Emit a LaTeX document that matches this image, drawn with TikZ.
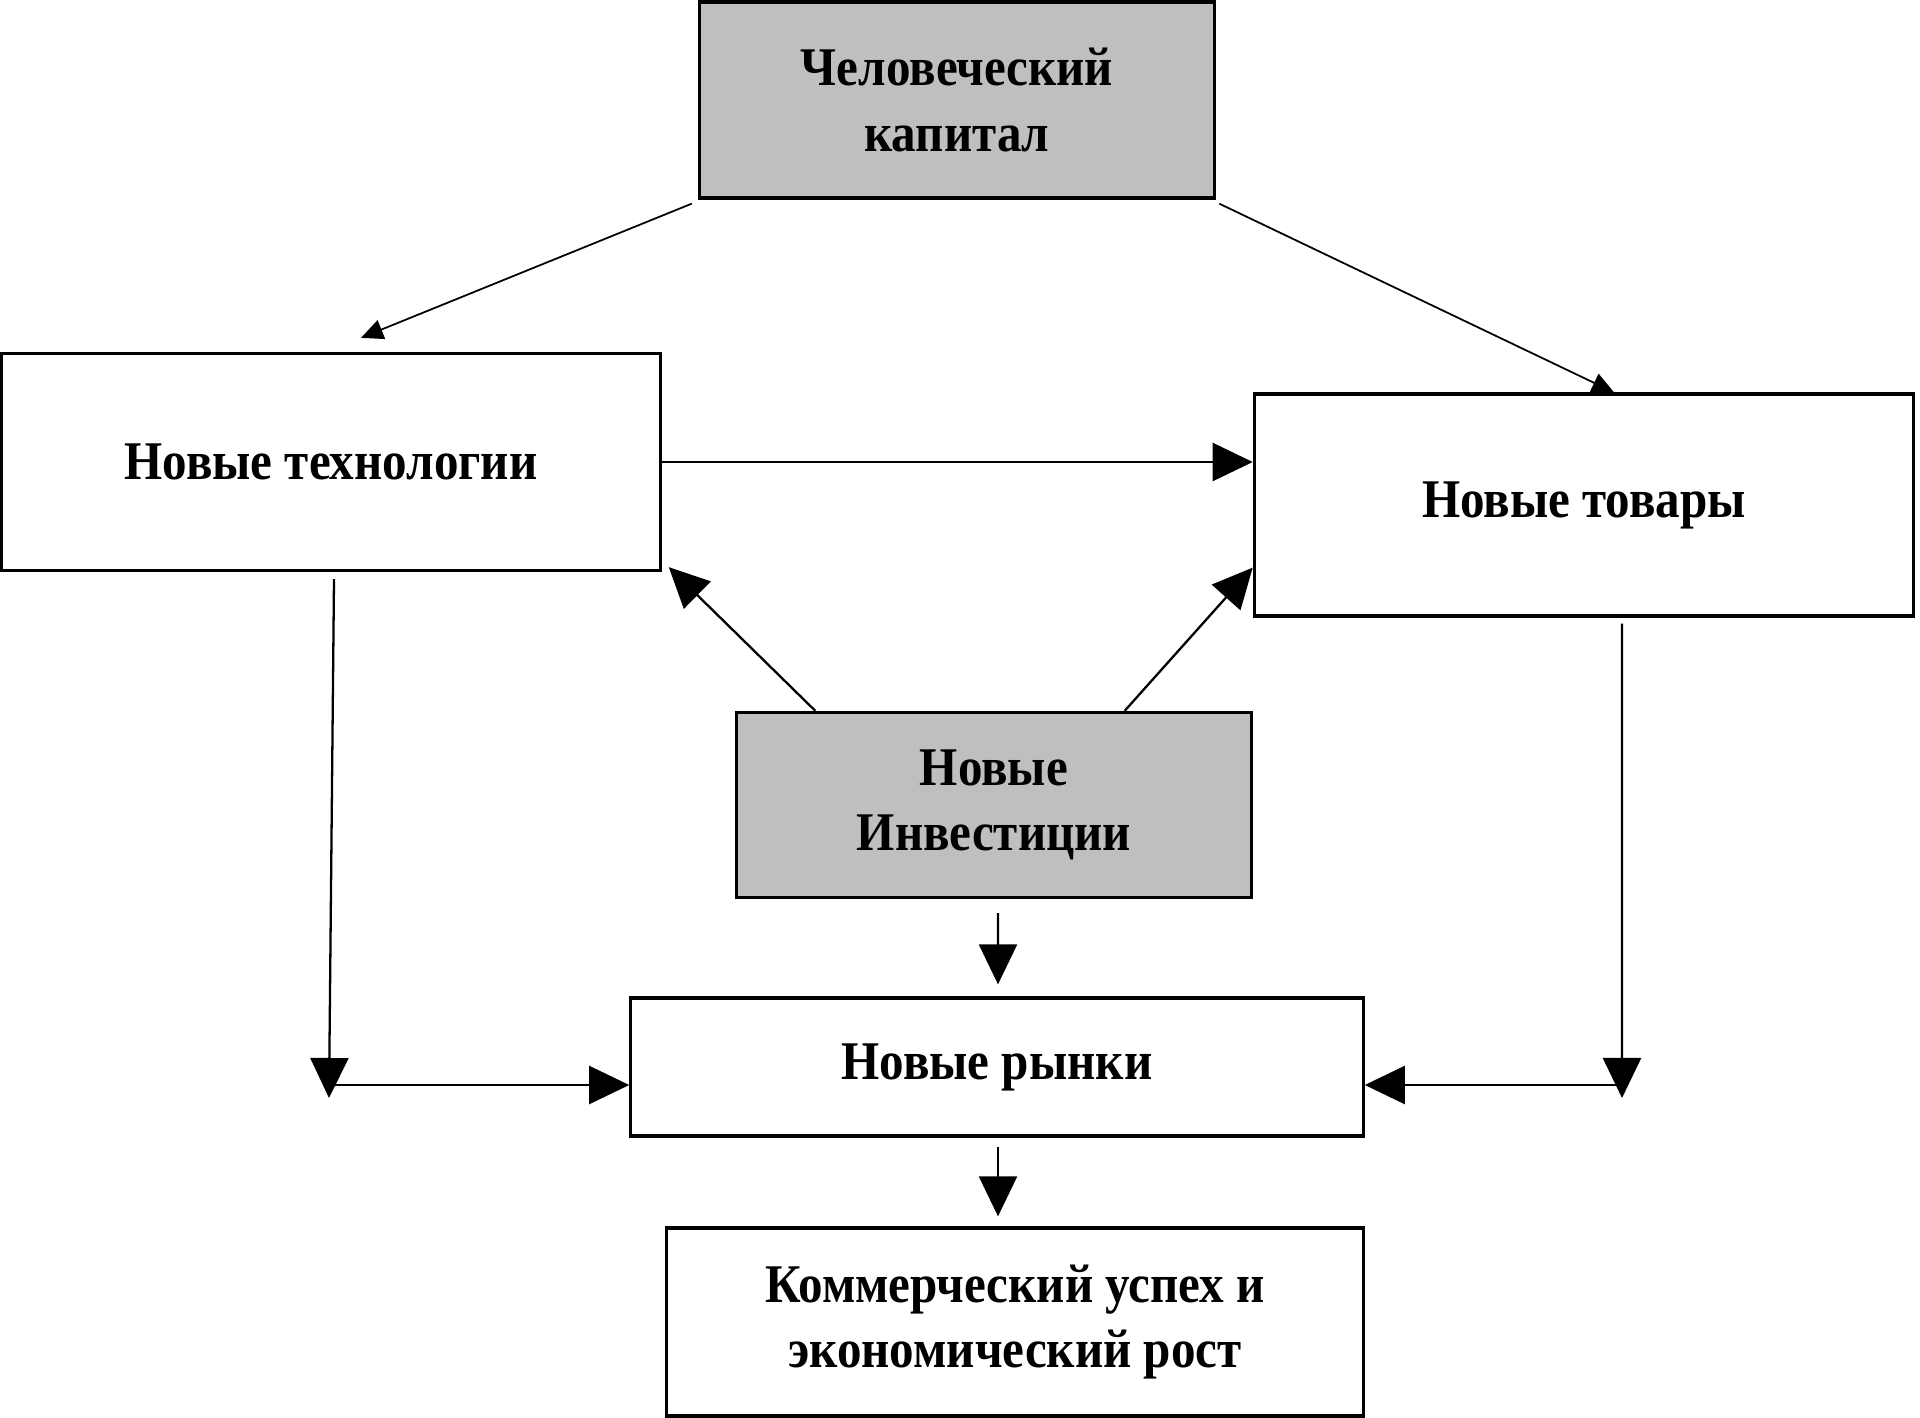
\documentclass[tikz,border=0pt]{standalone}
\usepackage{fontspec}
\setmainfont[FakeStretch=0.9]{Liberation Serif}
\usepackage{tikz}
\usetikzlibrary{arrows.meta, positioning, calc}
\tikzset{
    block/.style={
        rectangle,
        draw=black,
        line width=0.9pt,
        fill=white,
        align=center,
        inner sep=0pt,
        font=\fontsize{15.5}{18.5}\selectfont\bfseries
    },
    shaded/.style={
        block,
        fill=gray!50
    },
    flow/.style={
        draw=black,
        line width=0.65pt,
        -{Triangle[length=0.4cm, width=0.38cm]}
    },
    thinflow/.style={
        draw=black,
        line width=0.5pt,
        -{Triangle[length=0.22cm, width=0.2cm]}
    }
}
\begin{document}
\begin{tikzpicture}[x=0.01cm, y=-0.01cm]

\useasboundingbox (0,0) rectangle (1920,1418);

\node[shaded, minimum width=5.15cm, minimum height=1.96cm] (hc) at (957,100) {Человеческий\\капитал};
\node[block, minimum width=6.58cm, minimum height=2.17cm] (tech) at (331,462) {Новые технологии};
\node[block, minimum width=6.59cm, minimum height=2.22cm] (goods) at (1584,505) {Новые товары};
\node[shaded, minimum width=5.14cm, minimum height=1.85cm] (inv) at (994,805) {Новые\\Инвестиции};
\node[block, minimum width=7.32cm, minimum height=1.38cm] (mkt) at (997,1067) {Новые рынки};
\node[block, minimum width=6.96cm, minimum height=1.88cm] (succ) at (1015,1322) {Коммерческий успех и\\экономический рост};

\coordinate (lturn) at (329,1085);
\coordinate (rturn) at (1622,1085);

\draw[thinflow] ([xshift=-0.06cm,yshift=-0.04cm]hc.south west) -- ([xshift=0.3cm,yshift=0.14cm]tech.north);
\draw[thinflow] ([xshift=0.03cm,yshift=-0.04cm]hc.south east) -- ([xshift=0.3cm]goods.north);

\draw[flow] (tech.east) -- (tech.east -| goods.west);
\draw[flow] ([xshift=0.8cm]inv.north west) -- ([xshift=0.07cm,yshift=0.05cm]tech.south east);
\draw[flow] ([xshift=-1.28cm]inv.north east) -- ([yshift=0.5cm]goods.south west);

\draw[flow] ([xshift=0.03cm,yshift=-0.07cm]tech.south) -- ([yshift=-0.13cm]lturn);
\draw[flow] (lturn) -- (lturn -| mkt.west);
\draw[flow] ([xshift=0.38cm,yshift=-0.06cm]goods.south) -- ([yshift=-0.13cm]rturn);
\draw[flow] (rturn) -- (rturn -| mkt.east);

\draw[flow] ([xshift=0.04cm,yshift=-0.14cm]inv.south) -- ([xshift=0.01cm,yshift=0.12cm]mkt.north);
\draw[flow] ([xshift=0.01cm,yshift=-0.09cm]mkt.south) -- ([xshift=0.01cm,yshift=0.1cm]mkt.south |- succ.north);

\end{tikzpicture}
\end{document}
